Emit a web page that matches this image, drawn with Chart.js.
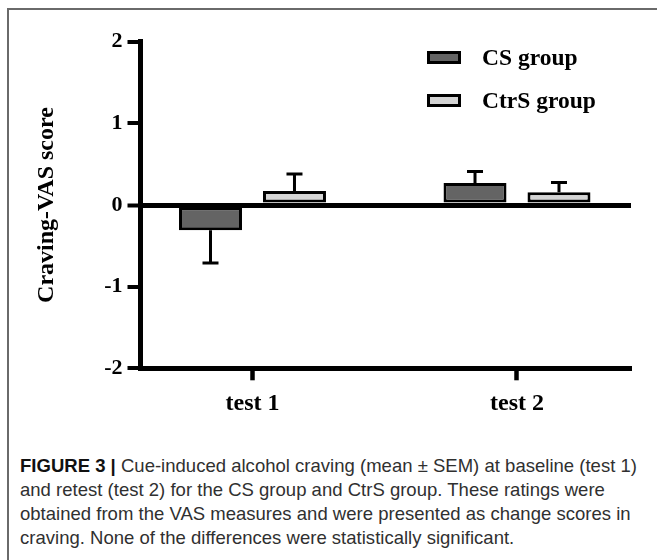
<!DOCTYPE html>
<html><head><meta charset="utf-8">
<script src="https://cdn.jsdelivr.net/npm/chart.js@4.4.1/dist/chart.umd.min.js"></script>
<style>
html,body{margin:0;padding:0;background:#fff;}
#wrap{position:relative;width:657px;height:560px;overflow:hidden;background:#fff;}
#frame{position:absolute;left:7px;top:8px;width:700px;height:700px;border-top:2px solid #6a6a6a;border-left:2px solid #6a6a6a;}
#cv{position:absolute;left:0;top:0;}
#cap{position:absolute;left:20px;top:454px;font-family:"Liberation Sans",Arial,sans-serif;font-size:18.5px;line-height:24px;color:#303030;white-space:nowrap;}
#cap span{display:inline-block;}
#cap b{font-weight:bold;color:#111;}
</style></head><body>
<div id="wrap">
<div id="frame"></div>
<canvas id="cv" width="657" height="440"></canvas>
<div id="cap"><span id="l1"><b>FIGURE 3 |</b> Cue-induced alcohol craving (mean ± SEM) at baseline (test 1)</span><br><span>and retest (test 2) for the CS group and CtrS group. These ratings were</span><br><span>obtained from the VAS measures and were presented as change scores in</span><br><span>craving. None of the differences were statistically significant.</span></div>
</div>
<script>
// ---- data ----
const categories = ['test 1', 'test 2'];
const seriesLabels = ['CS group', 'CtrS group'];
const csMean = [-0.31, 0.27];
const csSem = [0.40, 0.14];
const ctrsMean = [0.17, 0.155];
const ctrsSem = [0.21, 0.12];
const yTickValues = [-2, -1, 0, 1, 2];
const yTitle = 'Craving-VAS score';

const SERIF = '"Liberation Serif", "Times New Roman", serif';
const semBySeries = [csSem, ctrsSem];

const errorBars = {
  id: 'errorBars',
  afterDatasetsDraw(chart) {
    const ctx = chart.ctx, ys = chart.scales.y;
    ctx.save();
    ctx.strokeStyle = '#000';
    ctx.lineWidth = 3;
    ctx.lineCap = 'butt';
    chart.data.datasets.forEach((d, di) => {
      const meta = chart.getDatasetMeta(di);
      meta.data.forEach((el, i) => {
        const v = d.data[i].y, s = semBySeries[di][i];
        const dir = v < 0 ? -1 : 1;
        const y0 = ys.getPixelForValue(v);
        const y1 = ys.getPixelForValue(v + dir * s);
        ctx.beginPath();
        ctx.moveTo(el.x, y0); ctx.lineTo(el.x, y1);
        ctx.moveTo(el.x - 8, y1); ctx.lineTo(el.x + 8, y1);
        ctx.stroke();
      });
    });
    ctx.restore();
  }
};

const boxLegend = {
  id: 'boxLegend',
  afterDraw(chart) {
    const ctx = chart.ctx;
    const boxTop = [51, 94], base = [65, 108.3];
    ctx.save();
    chart.data.datasets.forEach((d, i) => {
      ctx.fillStyle = '#000';
      ctx.fillRect(427, boxTop[i], 34, 13);
      ctx.fillStyle = d.backgroundColor;
      ctx.fillRect(430, boxTop[i] + 3, 28, 7);
      ctx.fillStyle = '#000';
      ctx.font = 'bold 23.5px ' + SERIF;
      ctx.textBaseline = 'alphabetic';
      ctx.textAlign = 'left';
      ctx.fillText(d.label, 482, base[i]);
    });
    ctx.restore();
  }
};

function build() {
  new Chart(document.getElementById('cv'), {
    type: 'bar',
    data: {
      datasets: [
        { label: seriesLabels[0], data: categories.map((c, i) => ({ x: i, y: csMean[i] })),
          backgroundColor: '#646464', borderColor: '#000', borderWidth: 3, borderSkipped: false,
          categoryPercentage: 0.635, barPercentage: 0.75 },
        { label: seriesLabels[1], data: categories.map((c, i) => ({ x: i, y: ctrsMean[i] })),
          backgroundColor: '#d4d4d4', borderColor: '#000', borderWidth: 3, borderSkipped: false,
          categoryPercentage: 0.635, barPercentage: 0.75 }
      ]
    },
    options: {
      responsive: false, animation: false,
      layout: { padding: { top: 41.7, right: 26, left: 0, bottom: 0 } },
      plugins: { legend: { display: false }, tooltip: { enabled: false } },
      scales: {
        x: {
          type: 'linear', min: -0.4253, max: 1.431, offset: false,
          afterBuildTicks: s => { s.ticks = categories.map((c, i) => ({ value: i })); },
          afterFit: s => { s.height = 440 - 368.3; },
          ticks: { callback: v => categories[v], autoSkip: false, maxRotation: 0, color: '#000', padding: 9,
                   font: { family: SERIF, weight: 'bold', size: 24 } },
          grid: { offset: false, drawOnChartArea: false, drawTicks: true, tickLength: 12, tickWidth: 4.5, tickColor: '#000' },
          border: { display: true, color: '#000', width: 5 }
        },
        y: {
          min: -2, max: 2,
          afterBuildTicks: s => { s.ticks = yTickValues.map(v => ({ value: v })); },
          afterFit: s => { s.width = 140; },
          ticks: { color: '#000', padding: 5, font: { family: SERIF, weight: 'bold', size: 22 } },
          grid: {
            drawOnChartArea: true, drawTicks: true, tickLength: 12.5, tickWidth: 4, tickColor: '#000',
            color: c => (c.tick && c.tick.value === 0) ? '#000' : 'rgba(0,0,0,0)',
            lineWidth: c => (c.tick && c.tick.value === 0) ? 5 : 0
          },
          border: { display: true, color: '#000', width: 5 },
          title: { display: true, text: yTitle, color: '#000', padding: { top: 32, bottom: 0 },
                   font: { family: SERIF, weight: 'bold', size: 24 } }
        }
      }
    },
    plugins: [errorBars, boxLegend]
  });
}

function fitCaption() {
  const l1 = document.getElementById('l1');
  const w = l1.getBoundingClientRect().width;
  const n = l1.textContent.length;
  const ls = (617 - w) / n;
  document.getElementById('cap').style.letterSpacing = ls.toFixed(3) + 'px';
}

const go = () => { fitCaption(); build(); };
if (document.fonts && document.fonts.ready) document.fonts.ready.then(go); else go();
</script>
</body></html>
